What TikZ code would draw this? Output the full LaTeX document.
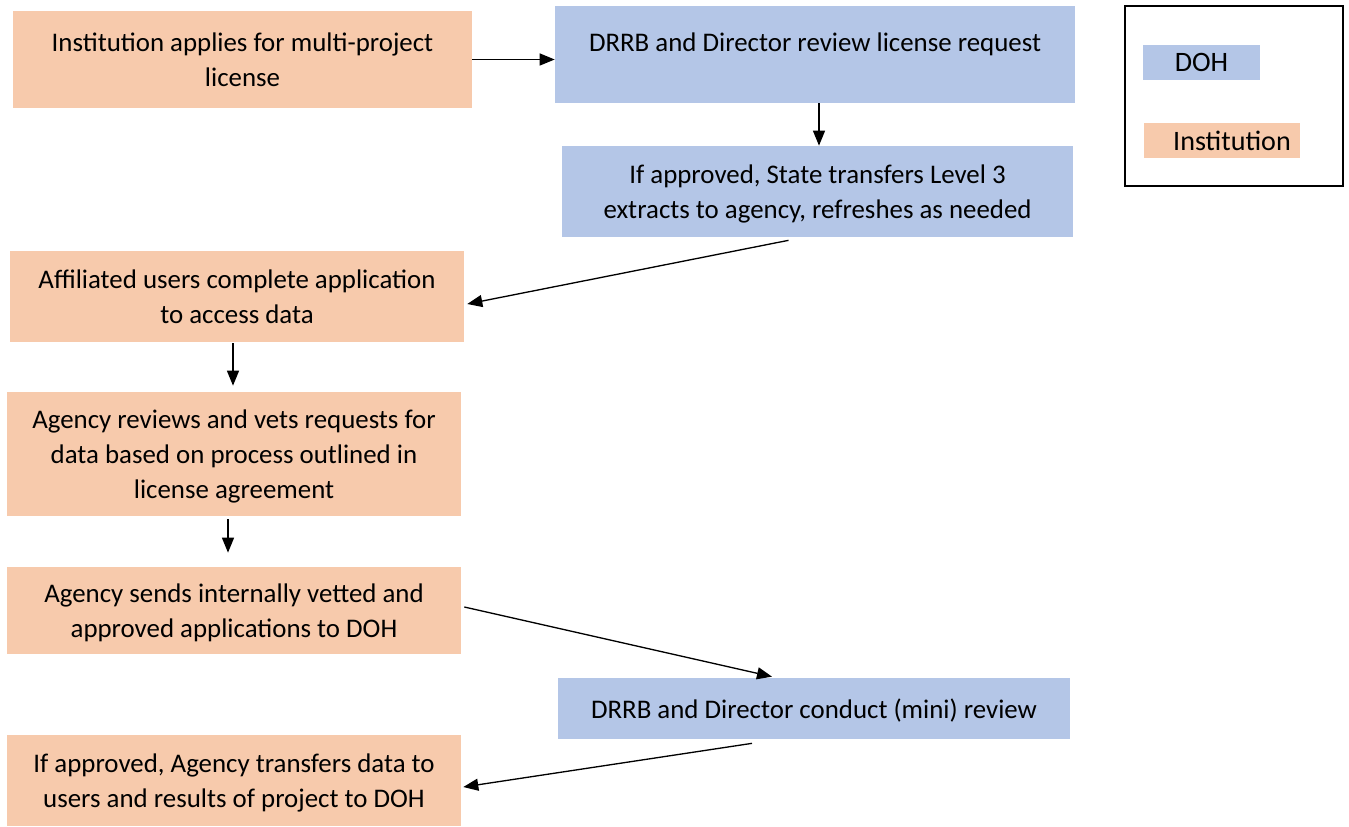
\documentclass[tikz,border=0pt]{standalone}
\usepackage{fontspec}
\setmainfont{Carlito}
\usetikzlibrary{arrows.meta}
\definecolor{instfill}{HTML}{F7CAAC}
\definecolor{dohfill}{HTML}{B4C6E7}

\begin{document}
\begin{tikzpicture}[x=0.02cm, y=-0.02cm,
    box/.style={inner sep=0pt, align=center, text depth=0pt, font=\fontsize{15.3}{19.9}\selectfont},
    inst/.style={box, fill=instfill},
    doh/.style={box, fill=dohfill},
    arr/.style={-{Triangle[length=0.3cm, width=0.24cm]}, line width=0.75pt}]
    \useasboundingbox (0,0) rectangle (1349,827);
    % steps
    \node[inst, minimum width=9.18cm, minimum height=1.94cm] (apply) at (242.5,59.5) {Institution applies for multi-project\\license};
    \node[doh, minimum width=10.4cm, minimum height=1.94cm, text depth=0.5cm] (review) at (815,54.5) {DRRB and Director review license request};
    \node[doh, minimum width=10.22cm, minimum height=1.82cm] (transfer) at (817.5,191.5) {If approved, State transfers Level 3\\extracts to agency, refreshes as needed};
    \node[inst, minimum width=9.08cm, minimum height=1.82cm] (users) at (237,296.5) {Affiliated users complete application\\to access data};
    \node[inst, minimum width=9.08cm, minimum height=2.48cm] (vet) at (234,454) {Agency reviews and vets requests for\\data based on process outlined in\\license agreement};
    \node[inst, minimum width=9.08cm, minimum height=1.74cm] (send) at (234,610.5) {Agency sends internally vetted and\\approved applications to DOH};
    \node[doh, minimum width=10.24cm, minimum height=1.22cm] (mini) at (814,708.5) {DRRB and Director conduct (mini) review};
    \node[inst, minimum width=9.08cm, minimum height=1.82cm] (result) at (234,780.5) {If approved, Agency transfers data to\\users and results of project to DOH};
    % connectors
    \draw[arr] (apply.east) -- (apply.east -| review.west);
    \draw[arr] ([xshift=0.08cm]review.south) -- ([xshift=0.08cm]review.south |- transfer.north);
    \draw[arr] ([shift={(-29,3)}]transfer.south) -- ([shift={(3,7.5)}]users.east);
    \draw[arr] ([shift={(-4,1)}]users.south) -- ([shift={(-1,-6)}]vet.north);
    \draw[arr] ([shift={(-6,3)}]vet.south) -- ([shift={(-6,-14)}]send.north);
    \draw[arr] ([shift={(3,-3.5)}]send.east) -- ([shift={(-42,-1)}]mini.north);
    \draw[arr] ([shift={(-62,4)}]mini.south) -- ([shift={(2,6.5)}]result.east);
    % legend
    \draw[line width=0.9pt] (1125,6) rectangle (1343,186);
    \node[doh, minimum width=2.34cm, minimum height=0.7cm, font=\fontsize{16}{19.9}\selectfont] (keydoh) at (1201.5,62.5) {DOH};
    \node[inst, minimum width=3.12cm, minimum height=0.7cm, font=\fontsize{16}{19.9}\selectfont] (keyinst) at (1222,140.5) {\hspace{0.4cm}Institution};
\end{tikzpicture}
\end{document}
